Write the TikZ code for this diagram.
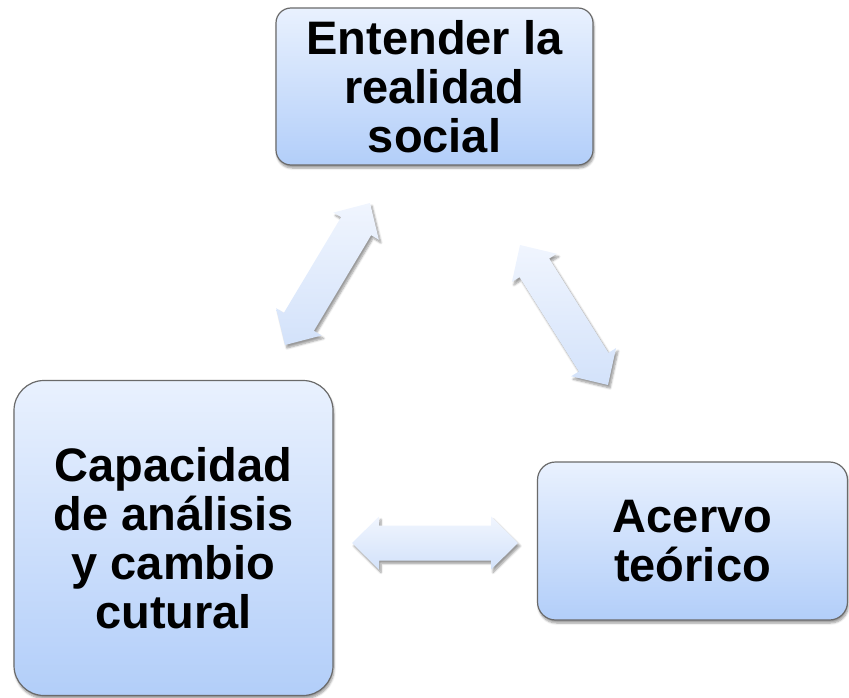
\documentclass[tikz,border=0pt]{standalone}
\usepackage{fontspec}
\setmainfont{Liberation Sans}
\usetikzlibrary{calc,shadows,shadows.blur}
\definecolor{boxtop}{HTML}{E9F1FE}
\definecolor{boxbot}{HTML}{B2CEF9}
\definecolor{boxline}{HTML}{6A6A6A}
\definecolor{arrtop}{HTML}{F0F5FE}
\definecolor{arrbot}{HTML}{D3E2FA}
\tikzset{
  box/.style={rectangle, draw=boxline, line width=1.2pt, top color=boxtop, bottom color=boxbot,
    align=center, inner sep=0pt, text=black,
    font=\fontsize{47}{49}\selectfont\bfseries,
    blur shadow={shadow xshift=1pt, shadow yshift=-3pt, shadow blur steps=6, shadow opacity=40}},
  arrowfill/.style={top color=arrtop, bottom color=arrbot, draw=none,
    blur shadow={shadow xshift=2pt, shadow yshift=-3pt, shadow blur steps=6, shadow opacity=40}}
}
\newcommand\dblarr[2]{%
  \coordinate (h1) at ($(#1)!27pt!(#2)$);
  \coordinate (h2) at ($(#2)!27pt!(#1)$);
  \path[arrowfill] (#1)
    -- ($(h1)!26.5pt!90:(#2)$) -- ($(h1)!17.5pt!90:(#2)$)
    -- ($(h2)!17.5pt!-90:(#1)$) -- ($(h2)!26.5pt!-90:(#1)$)
    -- (#2)
    -- ($(h2)!26.5pt!90:(#1)$) -- ($(h2)!17.5pt!90:(#1)$)
    -- ($(h1)!17.5pt!-90:(#2)$) -- ($(h1)!26.5pt!-90:(#2)$)
    -- cycle;
}
\begin{document}
\begin{tikzpicture}[x=1pt,y=-1pt]
\useasboundingbox (0,0) rectangle (849,698);
\node[box, rounded corners=15pt, minimum width=317pt, minimum height=157pt] (top) at (434.5,86.5)
  {Entender la\\realidad\\social};
\node[box, rounded corners=30pt, minimum width=319pt, minimum height=315pt] (left) at (173.5,538)
  {Capacidad\\de análisis\\y cambio\\cutural};
\node[box, rounded corners=18pt, minimum width=310pt, minimum height=158pt] (right) at (692.5,541)
  {Acervo\\teórico};
% arrow end points
\coordinate (a1s) at (285,345);
\coordinate (a1e) at (370,203);
\coordinate (a2s) at (520,245);
\coordinate (a2e) at (608,385);
\coordinate (a3s) at (352,543);
\coordinate (a3e) at (518,543);
\dblarr{a1s}{a1e}
\dblarr{a2s}{a2e}
\dblarr{a3s}{a3e}
\end{tikzpicture}
\end{document}
